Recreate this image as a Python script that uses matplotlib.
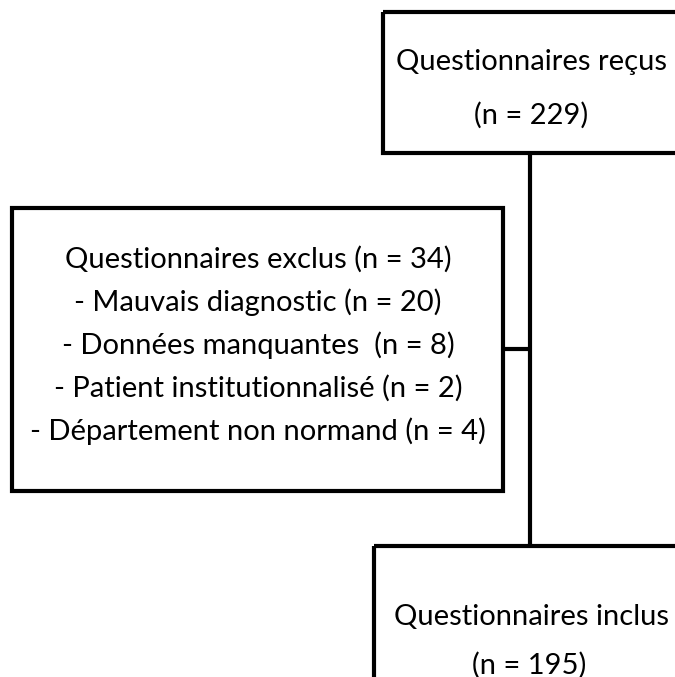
import matplotlib
matplotlib.use('Agg')
from matplotlib import pyplot as plt
from matplotlib.patches import Rectangle

# flowchart content
top_title = 'Questionnaires reçus'
n_recus = 229
excl_title = 'Questionnaires exclus'
n_exclus = 34
excl_reasons = ['Mauvais diagnostic', 'Données manquantes ', 'Patient institutionnalisé',
                'Département non normand']
excl_counts = [20, 8, 2, 4]
incl_title = 'Questionnaires inclus'
n_inclus = 195

W, H = 675, 677
fig = plt.figure(figsize=(W / 100, H / 100), dpi=100)
ax = fig.add_axes([0, 0, 1, 1])
ax.set_xlim(0, W)
ax.set_ylim(H, 0)
ax.axis('off')

lw = 3.0
fs = 21
font = 'Lato'

def box(x0, y0, x1, y1):
    ax.add_patch(Rectangle((x0, y0), x1 - x0, y1 - y0, fill=False, lw=lw,
                           edgecolor='black', clip_on=False))

# top box (runs off the right edge)
box(383, 12, 700, 153)
ax.text(531, 62, top_title, ha='center', va='center', fontsize=fs, family=font)
ax.text(531, 115, '(n = {})'.format(n_recus), ha='center', va='center', fontsize=fs, family=font)

# main vertical line and connector
ax.plot([530, 530], [153, 546], color='black', lw=lw, solid_capstyle='butt')
ax.plot([503, 530], [349, 349], color='black', lw=lw, solid_capstyle='butt')

# exclusion box
box(12, 208, 503, 491)
lines = ['{} (n = {})'.format(excl_title, n_exclus)]
lines += ['- {} (n = {})'.format(r, c) for r, c in zip(excl_reasons, excl_counts)]
for i, s in enumerate(lines):
    ax.text(258, 259 + i * 43, s, ha='center', va='center', fontsize=fs, family=font)

# included box (runs off the bottom and right)
box(374, 546, 700, 720)
ax.text(532, 617, incl_title, ha='center', va='center', fontsize=fs, family=font)
ax.text(529, 665, '(n = {})'.format(n_inclus), ha='center', va='center', fontsize=fs, family=font)

fig.savefig('out.png', dpi=100)
plt.close(fig)
